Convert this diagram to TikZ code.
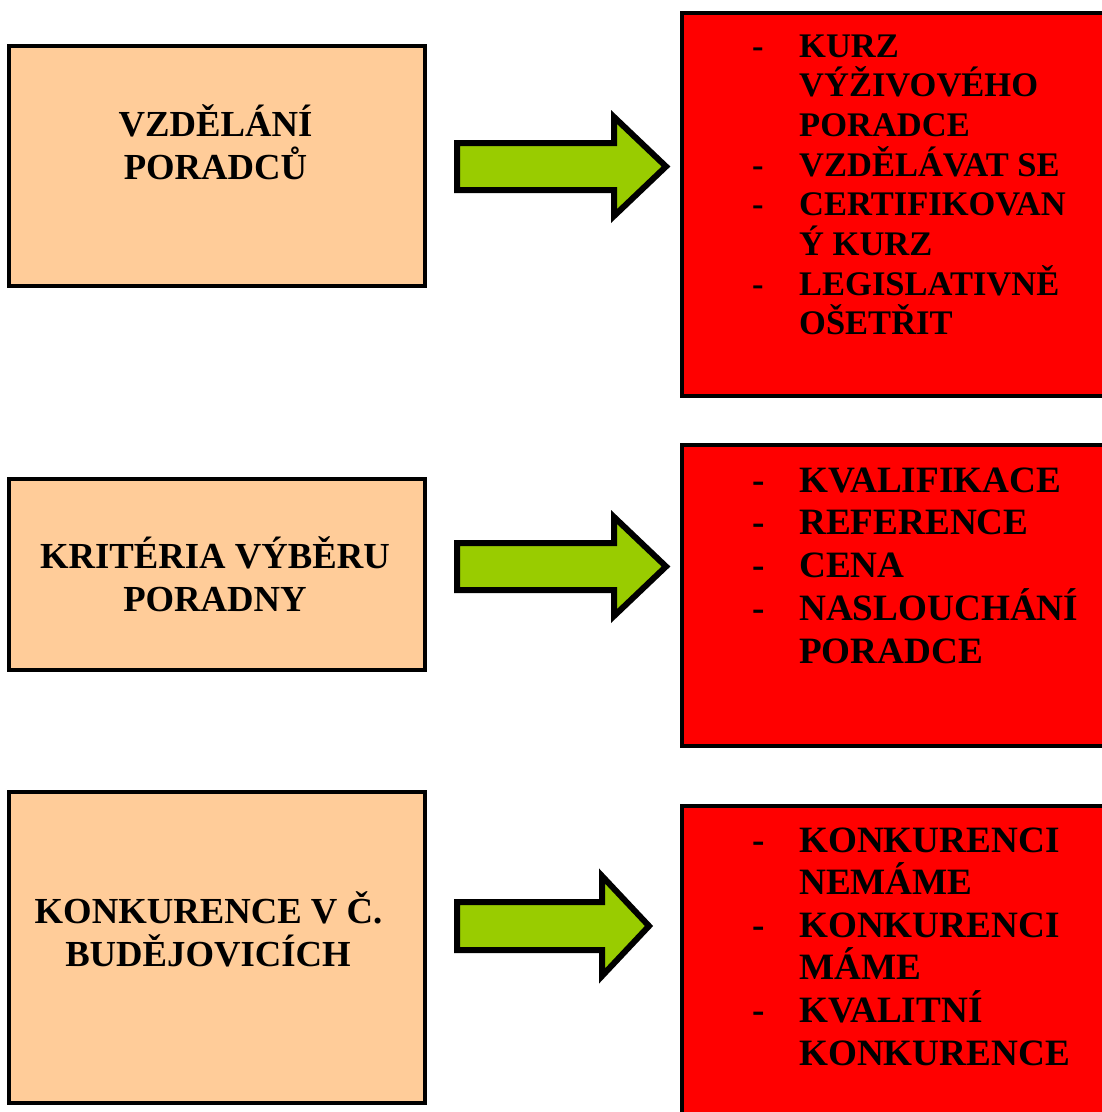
\documentclass[tikz,border=0pt]{standalone}
\usepackage{fontspec}
\setmainfont{Liberation Serif}
\definecolor{peach}{HTML}{FFCC99}
\definecolor{redbox}{HTML}{FF0000}
\definecolor{arrowgreen}{HTML}{99CC00}
\tikzset{
  leftbox/.style={draw=black, fill=peach, line width=4pt, rectangle, inner sep=0pt, minimum width=416pt},
  rightbox/.style={draw=black, fill=redbox, line width=4.5pt, rectangle, inner sep=0pt, minimum width=428pt},
  blockarrow/.style={draw=black, fill=arrowgreen, line width=6pt, line join=miter},
  lefttext/.style={anchor=base, inner sep=0pt, font=\fontsize{36.7}{43}\selectfont\bfseries},
  smalltext/.style={anchor=base west, inner sep=0pt, font=\fontsize{34.5}{40}\selectfont\bfseries},
  bigtext/.style={anchor=base west, inner sep=0pt, font=\fontsize{37.2}{43}\selectfont\bfseries},
}
\begin{document}
\begin{tikzpicture}[x=1pt,y=-1pt]
\useasboundingbox (0,0) rectangle (1102,1112);
\clip (0,0) rectangle (1102,1112);
\fill[white] (0,0) rectangle (1102,1112);

% left boxes
\node[leftbox, minimum height=240pt] (b1) at (217,166) {};
\node[leftbox, minimum height=191pt] (b2) at (217,574.5) {};
\node[leftbox, minimum height=311pt] (b3) at (217,947.5) {};

\node[lefttext] (b1a) at (215.5,136) {VZDĚLÁNÍ};
\node[lefttext] (b1b) at (215.5,179) {PORADCŮ};
\node[lefttext] (b2a) at (215,568) {KRITÉRIA VÝBĚRU};
\node[lefttext] (b2b) at (215,611) {PORADNY};
\node[lefttext] (b3a) at (208.5,923) {KONKURENCE V Č.};
\node[lefttext] (b3b) at (208,966) {BUDĚJOVICÍCH};

% right boxes
\node[rightbox, minimum height=383pt] (r1) at (896,204.5) {};
\node[rightbox, minimum height=301pt] (r2) at (896,595.5) {};
\node[rightbox, minimum height=314pt] (r3) at (896,963) {};

% arrows
\draw[blockarrow] (457,143) -- (614,143) -- (614,117) -- (666,166.5) -- (614,216) -- (614,190) -- (457,190) -- cycle;
\draw[blockarrow] (457,543) -- (614,543) -- (614,517) -- (666,566.5) -- (614,616) -- (614,590) -- (457,590) -- cycle;
\draw[blockarrow] (457,902) -- (602,902) -- (602,876) -- (649,926) -- (602,976) -- (602,950) -- (457,950) -- cycle;

% right box 1 list
\foreach \t [count=\i] in {KURZ,VÝŽIVOVÉHO,PORADCE,VZDĚLÁVAT SE,CERTIFIKOVAN,Ý KURZ,LEGISLATIVNĚ,OŠETŘIT}
  \node[smalltext] (r1t\i) at (799,{57+39.7*(\i-1)}) {\t};
\foreach \i in {1,4,5,7}
  \node[smalltext] (r1d\i) at (752,{57+39.7*(\i-1)}) {-};

% right box 2 list
\foreach \t [count=\i] in {KVALIFIKACE,REFERENCE,CENA,NASLOUCHÁNÍ,PORADCE}
  \node[bigtext] (r2t\i) at (799,{492+42.8*(\i-1)}) {\t};
\foreach \i in {1,2,3,4}
  \node[bigtext] (r2d\i) at (752,{492+42.8*(\i-1)}) {-};

% right box 3 list
\foreach \t [count=\i] in {KONKURENCI,NEMÁME,KONKURENCI,MÁME,KVALITNÍ,KONKURENCE}
  \node[bigtext] (r3t\i) at (799,{852+42.6*(\i-1)}) {\t};
\foreach \i in {1,3,5}
  \node[bigtext] (r3d\i) at (752,{852+42.6*(\i-1)}) {-};
\end{tikzpicture}
\end{document}
